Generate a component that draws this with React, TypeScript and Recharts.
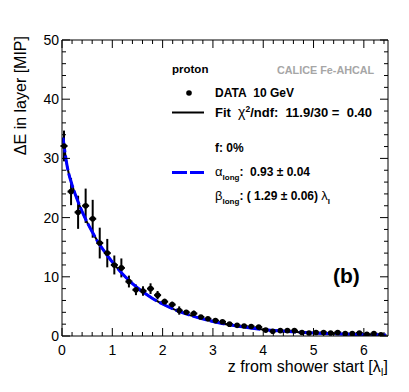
import React from 'react';
import { ComposedChart, XAxis, YAxis, Scatter, Line, ErrorBar } from 'recharts';

// shower depth (bin centres, in lambda_I)
const Z_POS = [
  0.04, 0.18, 0.32, 0.47, 0.61, 0.75, 0.9, 1.04, 1.18, 1.33, 1.47, 1.61, 1.76, 1.9, 2.04,
  2.19, 2.33, 2.47, 2.62, 2.76, 2.9, 3.05, 3.19, 3.33, 3.48, 3.62, 3.76, 3.91, 4.05, 4.19,
  4.34, 4.48, 4.62, 4.77, 4.91, 5.05, 5.2, 5.34, 5.48, 5.63, 5.77, 5.91, 6.06, 6.2, 6.34,
];
// energy per layer [MIP]
const DE_VAL = [
  32.1, 24.4, 20.9, 22.0, 19.8, 15.7, 14.0, 12.0, 11.5, 9.2, 7.8, 7.6, 8.0, 6.9, 5.8,
  5.3, 4.3, 4.0, 3.8, 3.2, 2.9, 2.6, 2.4, 2.0, 1.8, 1.7, 1.6, 1.5, 1.0, 0.8,
  0.9, 0.9, 0.9, 0.6, 0.5, 0.6, 0.6, 0.5, 0.6, 0.4, 0.4, 0.5, 0.3, 0.4, 0.2,
];
const DE_ERR = [
  2.6, 2.3, 2.8, 2.9, 3.2, 2.6, 2.4, 1.6, 1.6, 1.0, 0.9, 0.8, 0.9, 0.7, 0.5,
  0.5, 0.7, 0.4, 0.5, 0.3, 0.3, 0.3, 0.3, 0.3, 0.3, 0.2, 0.2, 0.3, 0.3, 0.2,
  0.2, 0.2, 0.2, 0.2, 0.2, 0.2, 0.2, 0.2, 0.2, 0.2, 0.2, 0.2, 0.2, 0.2, 0.2,
];
const BIN_HALF = 0.07;

// fitted longitudinal profile
const FIT_Z = [0.02, 0.1, 0.2, 0.3, 0.4, 0.5, 0.6, 0.7, 0.8, 0.9, 1.0, 1.2, 1.4, 1.6, 1.8, 2.0, 2.3, 2.6, 3.0, 3.5, 4.0, 4.5, 5.0, 5.5, 6.0, 6.45];
const FIT_DE = [33.5, 28.8, 25.5, 23.1, 21.0, 19.2, 17.6, 16.1, 14.8, 13.6, 12.5, 10.5, 8.85, 7.5, 6.35, 5.4, 4.25, 3.35, 2.45, 1.65, 1.1, 0.74, 0.5, 0.34, 0.23, 0.16];

const X_TICKS = [
  0, 0.2, 0.4, 0.6, 0.8, 1, 1.2, 1.4, 1.6, 1.8, 2, 2.2, 2.4, 2.6, 2.8, 3, 3.2, 3.4, 3.6, 3.8,
  4, 4.2, 4.4, 4.6, 4.8, 5, 5.2, 5.4, 5.6, 5.8, 6, 6.2, 6.4,
];
const Y_TICKS = [0, 2, 4, 6, 8, 10, 12, 14, 16, 18, 20, 22, 24, 26, 28, 30, 32, 34, 36, 38, 40, 42, 44, 46, 48, 50];

const points = Z_POS.map((z, i) => ({ z, de: DE_VAL[i], err: DE_ERR[i], zerr: BIN_HALF }));
const fitData = FIT_Z.map((z, i) => ({ z, fit: FIT_DE[i] }));

const FONT = '"Liberation Sans", Arial, Helvetica, sans-serif';
const X_DOMAIN: [number, number] = [0, 6.48];
const SP = '\u00a0';

const isMajor = (v: number, step: number) => Math.abs(v / step - Math.round(v / step)) < 1e-6;

const XTick = (props: any) => {
  const { x, y, payload, side } = props;
  const v = payload.value;
  const major = isMajor(v, 1);
  const len = major ? 8 : 4;
  const dir = side === 'top' ? 1 : -1;
  return (
    <g>
      <line x1={x} y1={y} x2={x} y2={y + dir * len} stroke="#000" strokeWidth={1} />
      {major && side !== 'top' && (
        <text x={x} y={y + 19} textAnchor="middle" fontSize={14} fontFamily={FONT} fill="#000">
          {Math.round(v)}
        </text>
      )}
    </g>
  );
};

const YTick = (props: any) => {
  const { x, y, payload, side } = props;
  const v = payload.value;
  const major = isMajor(v, 10);
  const len = major ? 8 : 4;
  const dir = side === 'right' ? -1 : 1;
  return (
    <g>
      <line x1={x} y1={y} x2={x + dir * len} y2={y} stroke="#000" strokeWidth={1} />
      {major && side !== 'right' && (
        <text x={x - 3} y={y + 5} textAnchor="end" fontSize={14} fontFamily={FONT} fill="#000">
          {v}
        </text>
      )}
    </g>
  );
};

const dot = (p: any) => <circle cx={p.cx} cy={p.cy} r={2.8} fill="#000" />;

const Overlay = () => (
  <svg width={409} height={392} style={{ position: 'absolute', left: 0, top: 0, pointerEvents: 'none' }}>
    <g fontFamily={FONT}>
      <text transform="translate(26,36) rotate(-90)" textAnchor="end" fontSize={16}>
        ΔE in layer [MIP]
      </text>
      <text x={388} y={372} textAnchor="end" fontSize={16}>
        z from shower start [λ<tspan fontSize={10} dy={4}>I</tspan>
        <tspan dy={-4}>]</tspan>
      </text>

      <text x={277} y={74} fontSize={10.8} fontWeight="bold" fill="#a6a6a6">CALICE Fe-AHCAL</text>
      <text x={172} y={73} fontSize={11.5} fontWeight="bold">proton</text>

      <circle cx={189} cy={93} r={2.8} fill="#000" />
      <text x={215} y={97} fontSize={12} fontWeight="bold">{`DATA${SP}${SP}10 GeV`}</text>

      <line x1={172} y1={112.5} x2={204} y2={112.5} stroke="#000" strokeWidth={2} />
      <text x={215} y={117} fontSize={13} fontWeight="bold">
        {`Fit${SP}${SP}`}
        <tspan fontWeight="normal" fontSize={14}>χ</tspan>
        <tspan fontSize={8.5} dy={-5}>2</tspan>
        <tspan dy={5}>{`/ndf:${SP}${SP}11.9/30${SP}=${SP}${SP}0.40`}</tspan>
      </text>

      <text x={215} y={152} fontSize={12} fontWeight="bold">f: 0%</text>

      <line x1={172} y1={172.5} x2={204} y2={172.5} stroke="#0000ff" strokeWidth={3} strokeDasharray="15 3" />
      <text x={215} y={176} fontSize={12} fontWeight="bold">
        <tspan fontWeight="normal" fontSize={13}>α</tspan>
        <tspan fontSize={8} dy={4}>long</tspan>
        <tspan dy={-4}>{`:${SP}${SP}0.93 ± 0.04`}</tspan>
      </text>

      <text x={215} y={200} fontSize={12} fontWeight="bold">
        <tspan fontWeight="normal" fontSize={13}>β</tspan>
        <tspan fontSize={8} dy={4}>long</tspan>
        <tspan dy={-4}>{`: ( 1.29 ± 0.06)${SP}`}</tspan>
        <tspan fontWeight="normal" fontSize={13}>λ</tspan>
        <tspan fontSize={8} dy={4}>I</tspan>
      </text>

      <text x={333} y={283} fontSize={21} fontWeight="bold">(b)</text>
    </g>
  </svg>
);

export default function App() {
  return (
    <div style={{ position: 'absolute', left: 0, top: 0, width: 409, height: 392, background: '#fff' }}>
      <ComposedChart width={409} height={392} margin={{ top: 39, right: 20, bottom: 0, left: 0 }}>
        <XAxis
          xAxisId="b"
          dataKey="z"
          type="number"
          domain={X_DOMAIN}
          allowDataOverflow
          ticks={X_TICKS}
          interval={0}
          height={56}
          tickSize={0}
          tickMargin={0}
          tickLine={false}
          axisLine={{ stroke: '#000' }}
          tick={<XTick side="bottom" />}
        />
        <XAxis
          xAxisId="t"
          dataKey="z"
          orientation="top"
          type="number"
          domain={X_DOMAIN}
          allowDataOverflow
          ticks={X_TICKS}
          interval={0}
          height={1}
          tickSize={0}
          tickMargin={0}
          tickLine={false}
          axisLine={{ stroke: '#000' }}
          tick={<XTick side="top" />}
        />
        <YAxis
          yAxisId="l"
          type="number"
          domain={[0, 50]}
          allowDataOverflow
          ticks={Y_TICKS}
          interval={0}
          width={62}
          tickSize={0}
          tickMargin={0}
          tickLine={false}
          axisLine={{ stroke: '#000' }}
          tick={<YTick side="left" />}
        />
        <YAxis
          yAxisId="r"
          orientation="right"
          type="number"
          domain={[0, 50]}
          allowDataOverflow
          ticks={Y_TICKS}
          interval={0}
          width={1}
          tickSize={0}
          tickMargin={0}
          tickLine={false}
          axisLine={{ stroke: '#000' }}
          tick={<YTick side="right" />}
        />
        {/* invisible series so the top/right frame axes get drawn */}
        <Line
          xAxisId="t"
          yAxisId="r"
          data={fitData}
          dataKey="fit"
          stroke="none"
          dot={false}
          activeDot={false}
          isAnimationActive={false}
        />
        <Scatter
          xAxisId="b"
          yAxisId="l"
          data={points}
          dataKey="de"
          shape={dot}
          isAnimationActive={false}
        >
          <ErrorBar dataKey="err" direction="y" width={0} stroke="#000" strokeWidth={2} />
          <ErrorBar dataKey="zerr" direction="x" width={0} stroke="#000" strokeWidth={2} />
        </Scatter>
        <Line
          xAxisId="b"
          yAxisId="l"
          data={fitData}
          dataKey="fit"
          type="monotone"
          stroke="#000"
          strokeWidth={2}
          dot={false}
          isAnimationActive={false}
        />
        <Line
          xAxisId="b"
          yAxisId="l"
          data={fitData}
          dataKey="fit"
          type="monotone"
          stroke="#0000ff"
          strokeWidth={3}
          strokeDasharray="15 3"
          dot={false}
          isAnimationActive={false}
        />
      </ComposedChart>
      <Overlay />
    </div>
  );
}
